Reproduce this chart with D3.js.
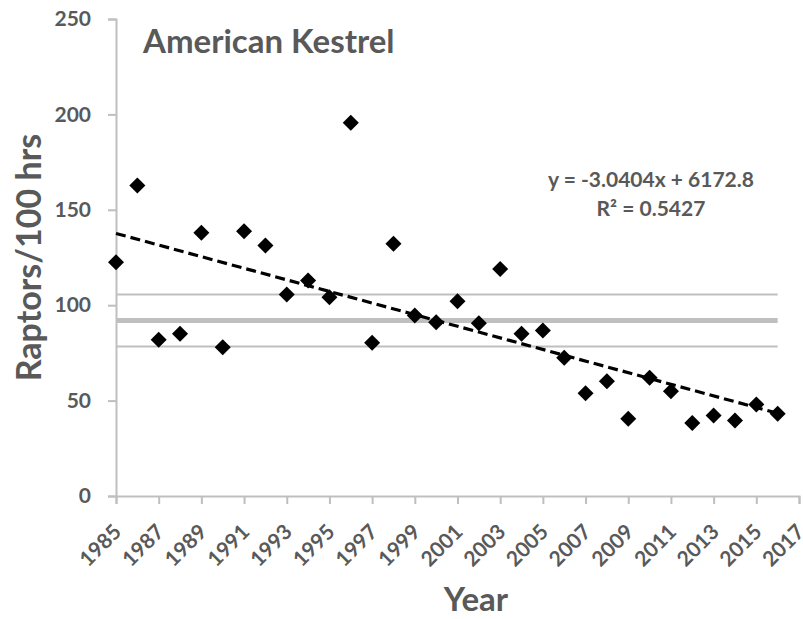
<!DOCTYPE html>
<html>
<head>
<meta charset="utf-8">
<script src="https://cdn.jsdelivr.net/npm/d3@7"></script>
<style>
  body { margin: 0; background: #fff; }
  text { font-family: Lato, "Open Sans", sans-serif; font-weight: bold; fill: #595959; }
</style>
</head>
<body>
<div id="chart"></div>
<script>
// Data
const years = d3.range(1985, 2017);
const rate = [122.5, 162.7, 81.9, 85, 138, 78, 138.8, 131.3, 105.6, 112.9,
              104.2, 195.6, 80.3, 132.2, 94.6, 91.1, 102.1, 90.6, 119, 85,
              86.7, 72.4, 53.9, 60.2, 40.5, 62, 54.9, 38.2, 42.2, 39.6, 48, 43.1];
const refLines = [105.6, 92, 78.4];   // upper, mean, lower
const slope = -3.0404, intercept = 6172.8;
const yTicks = [0, 50, 100, 150, 200, 250];
const xTicks = d3.range(1985, 2018, 2);

const data = years.map((y, i) => ({ year: y, value: rate[i] }));

const margin = { top: 19, right: 4, bottom: 123, left: 116 };
const width = 803 - margin.left - margin.right;
const height = 619 - margin.top - margin.bottom;

const svg = d3.select("#chart")
    .append("svg")
    .attr("width", 803)
    .attr("height", 619)
    .append("g")
    .attr("transform", `translate(${margin.left},${margin.top})`);

const x = d3.scaleLinear().domain([1985, 2017]).range([0, width]);
const y = d3.scaleLinear().domain([0, 250]).range([height, 0]);

// Reference lines
svg.selectAll(".ref")
    .data(refLines)
    .enter()
    .append("line")
    .attr("x1", x(1985))
    .attr("x2", x(2016))
    .attr("y1", d => y(d))
    .attr("y2", d => y(d))
    .attr("stroke", "#bfbfbf")
    .attr("stroke-width", (d, i) => i === 1 ? 5 : 2);

// Axes
const yAxis = svg.append("g")
    .call(d3.axisLeft(y).tickValues(yTicks).tickSize(8).tickPadding(17));
const xAxis = svg.append("g")
    .attr("transform", `translate(0,${height})`)
    .call(d3.axisBottom(x).tickValues(xTicks).tickSize(8).tickFormat(d3.format("d")));

[xAxis, yAxis].forEach(a => {
    a.select(".domain").attr("stroke", "#bfbfbf").attr("stroke-width", 2);
    a.selectAll(".tick line").attr("stroke", "#bfbfbf").attr("stroke-width", 2);
    a.selectAll("text").style("font-size", "21px").attr("fill", "#595959");
});

xAxis.selectAll("text")
    .style("text-anchor", "end")
    .attr("x", 0)
    .attr("y", 0)
    .attr("dy", "0.35em")
    .attr("transform", "translate(1,32) rotate(-45)");

// Trend line
svg.append("line")
    .attr("x1", x(1985))
    .attr("x2", x(2016))
    .attr("y1", y(slope * 1985 + intercept))
    .attr("y2", y(slope * 2016 + intercept))
    .attr("stroke", "#000")
    .attr("stroke-width", 3.2)
    .attr("stroke-dasharray", "10,5");

// Points
svg.selectAll(".pt")
    .data(data)
    .enter()
    .append("path")
    .attr("d", d3.symbol().type(d3.symbolSquare).size(128))
    .attr("transform", d => `translate(${x(d.year)},${y(d.value)}) rotate(45)`)
    .attr("fill", "#000");

// Title
svg.append("text")
    .attr("x", 27)
    .attr("y", 34)
    .style("font-size", "33px")
    .text("American Kestrel");

// Equation
svg.append("text")
    .attr("x", 535)
    .attr("y", 168)
    .attr("text-anchor", "middle")
    .style("font-size", "21px")
    .text("y = -3.0404x + 6172.8");

svg.append("text")
    .attr("x", 535)
    .attr("y", 197)
    .attr("text-anchor", "middle")
    .style("font-size", "21px")
    .text("R² = 0.5427");

// Axis labels
svg.append("text")
    .attr("transform", "rotate(-90)")
    .attr("x", -height / 2)
    .attr("y", -margin.left + 41)
    .attr("text-anchor", "middle")
    .style("font-size", "34px")
    .text("Raptors/100 hrs");

svg.append("text")
    .attr("x", 360)
    .attr("y", height + 115)
    .attr("text-anchor", "middle")
    .style("font-size", "33px")
    .text("Year");
</script>
</body>
</html>
